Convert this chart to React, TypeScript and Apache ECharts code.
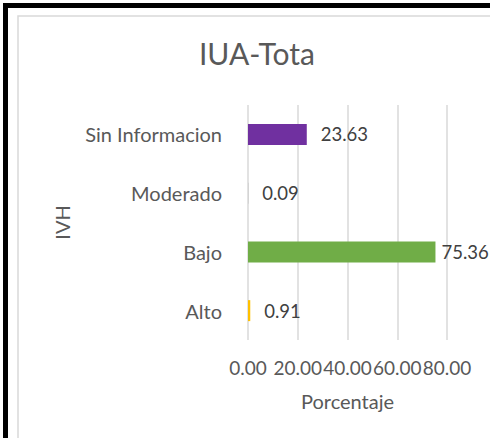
import React, { useEffect, useRef } from "react";
import * as echarts from "echarts";

const categories = ["Alto", "Bajo", "Moderado", "Sin Informacion"];
const values = [0.91, 75.36, 0.09, 23.63];
const barColors = ["#FFC000", "#70AD47", "#A5A5A5", "#7030A0"];
const labelDistances = [14, 6, 14, 14];
const xTicks = { min: 0, max: 80, interval: 20 };

const FONT = "Lato, 'Open Sans', sans-serif";

export default function App() {
  const ref = useRef<HTMLDivElement>(null);
  useEffect(() => {
    document.body.style.margin = "0";
    const chart = echarts.init(ref.current!, null, { renderer: "svg" });
    chart.setOption({
      animation: false,
      backgroundColor: "#ffffff",
      title: {
        text: "IUA-Tota",
        left: 257,
        textAlign: "center",
        top: 38,
        padding: 0,
        textStyle: { fontFamily: FONT, fontSize: 30, fontWeight: "normal", color: "#595959" },
      },
      graphic: [
        { type: "rect", shape: { x: 3, y: 3, width: 490, height: 5 }, style: { fill: "#000" }, silent: true },
        { type: "rect", shape: { x: 3, y: 3, width: 5, height: 440 }, style: { fill: "#000" }, silent: true },
        {
          type: "rect",
          shape: { x: 18, y: 16, width: 490, height: 440 },
          style: { fill: "none", stroke: "#d9d9d9", lineWidth: 1.5 },
          silent: true,
        },
      ],
      grid: { left: 248, right: 43, top: 105, bottom: 98, containLabel: false },
      xAxis: {
        type: "value",
        min: xTicks.min,
        max: xTicks.max,
        interval: xTicks.interval,
        axisLine: { show: false },
        axisTick: { show: false },
        splitLine: { show: true, lineStyle: { color: "#d9d9d9", width: 1.5 } },
        axisLabel: {
          formatter: (v: number) => v.toFixed(2),
          fontFamily: FONT,
          fontSize: 19,
          color: "#595959",
          margin: 18,
        },
        name: "Porcentaje",
        nameLocation: "middle",
        nameGap: 51,
        nameTextStyle: { fontFamily: FONT, fontSize: 20, color: "#595959" },
      },
      yAxis: {
        type: "category",
        data: categories,
        axisLine: { show: false },
        axisTick: { show: false },
        splitLine: { show: false },
        axisLabel: { fontFamily: FONT, fontSize: 20, color: "#595959", margin: 26 },
        name: "IVH",
        nameLocation: "middle",
        nameRotate: 90,
        nameGap: 176,
        nameTextStyle: { fontFamily: FONT, fontSize: 20, color: "#595959" },
      },
      series: [
        {
          type: "bar",
          barWidth: 21,
          data: values.map((v, i) => ({
            value: v,
            itemStyle: { color: barColors[i] },
            label: { distance: labelDistances[i] },
          })),
          label: {
            show: true,
            position: "right",
            formatter: (p: any) => Number(p.value).toFixed(2),
            fontFamily: FONT,
            fontSize: 18.5,
            color: "#404040",
          },
        },
      ],
    });
    return () => chart.dispose();
  }, []);
  return <div ref={ref} style={{ width: 490, height: 438 }} />;
}
